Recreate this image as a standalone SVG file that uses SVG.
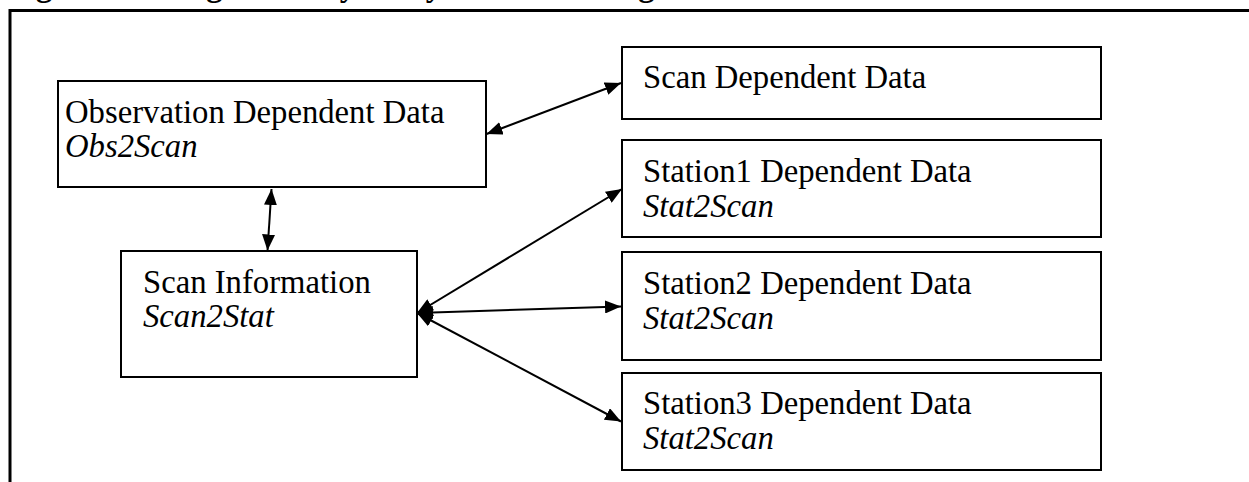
<svg xmlns="http://www.w3.org/2000/svg" width="1249" height="482" viewBox="0 0 1249 482">
<style>
.box{fill:#fff;stroke:#000;stroke-width:2}
.t{font-family:"Liberation Serif","Times New Roman",serif;font-size:32.7px;fill:#000}
.i{font-style:italic}
.title{font-family:"Liberation Serif","Times New Roman",serif;font-size:32.7px;font-weight:bold;fill:#000}
.c{stroke:#000;stroke-width:2;fill:none;marker-start:url(#ah);marker-end:url(#ah)}
</style>
<defs>
<marker id="ah" viewBox="0 0 16 13" refX="16" refY="6.5" markerWidth="16" markerHeight="13" markerUnits="userSpaceOnUse" orient="auto-start-reverse">
<path d="M0,0 L16,6.5 L0,13 z" fill="#000"/>
</marker>
</defs>
<rect width="1249" height="482" fill="#fff"/>
<text class="title" x="7" y="-4">Figure 4: Using auxiliary arrays to tie data together</text>
<rect x="10" y="10.5" width="1250" height="480" fill="none" stroke="#000" stroke-width="3"/>
<g id="obs">
<rect class="box" x="58" y="81" width="428" height="106"/>
<text class="t" x="65" y="123">Observation Dependent Data</text>
<text class="t i" x="65" y="157">Obs2Scan</text>
</g>
<g id="scan">
<rect class="box" x="121" y="251" width="296" height="126"/>
<text class="t" x="143" y="293">Scan Information</text>
<text class="t i" x="143" y="327">Scan2Stat</text>
</g>
<g id="scandep">
<rect class="box" x="622" y="47" width="479" height="72"/>
<text class="t" x="643" y="88">Scan Dependent Data</text>
</g>
<g id="st1">
<rect class="box" x="622" y="140" width="479" height="97"/>
<text class="t" x="643" y="182">Station1 Dependent Data</text>
<text class="t i" x="643" y="217">Stat2Scan</text>
</g>
<g id="st2">
<rect class="box" x="622" y="252" width="479" height="108"/>
<text class="t" x="643" y="294">Station2 Dependent Data</text>
<text class="t i" x="643" y="329">Stat2Scan</text>
</g>
<g id="st3">
<rect class="box" x="622" y="373" width="479" height="97"/>
<text class="t" x="643" y="414">Station3 Dependent Data</text>
<text class="t i" x="643" y="449">Stat2Scan</text>
</g>
<g id="connectors">
<line class="c" x1="486.5" y1="134" x2="621" y2="83"/>
<line class="c" x1="271.5" y1="189" x2="267.5" y2="250.5"/>
<line class="c" x1="417" y1="313" x2="622" y2="189"/>
<line class="c" x1="417" y1="313" x2="621" y2="306.5"/>
<line class="c" x1="417" y1="313" x2="621" y2="421.5"/>
</g>
</svg>
